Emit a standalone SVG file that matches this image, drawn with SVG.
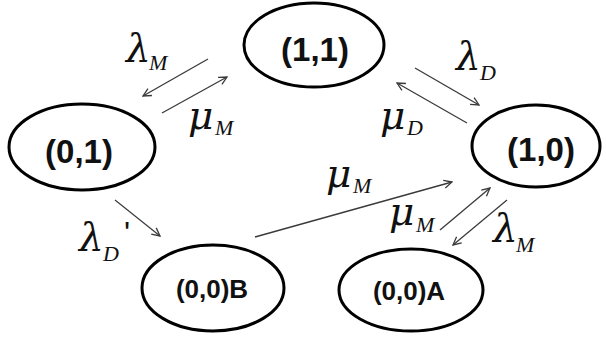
<svg xmlns="http://www.w3.org/2000/svg" width="606" height="338" viewBox="0 0 606 338">
<style>
.node{fill:#fff;stroke:#000;stroke-width:3}
.nt{font-family:"Liberation Sans",Arial,sans-serif;font-weight:bold;fill:#111;text-anchor:middle}
.big{font-size:33px}
.sm{font-size:26px}
.edge{stroke:#3a3a3a;stroke-width:1.3;fill:none}
.gk{font-family:"DejaVu Serif","Liberation Serif",serif;font-style:italic;fill:#111;font-size:39px}
.sub{font-family:"Liberation Serif","Times New Roman",serif;font-style:italic;fill:#111;font-size:22px}
</style>
<defs>
<marker id="ah" viewBox="0 0 10 10" refX="9" refY="5" markerWidth="10" markerHeight="10" markerUnits="userSpaceOnUse" orient="auto">
<path d="M1,1 L9,5 L1,9" fill="none" stroke="#3a3a3a" stroke-width="1.3"/>
</marker>
</defs>
<rect width="606" height="338" fill="#fff"/>
<g id="connectors">
<line class="edge" x1="208" y1="59" x2="143" y2="96" marker-end="url(#ah)"/>
<line class="edge" x1="162" y1="113" x2="227" y2="77" marker-end="url(#ah)"/>
<line class="edge" x1="415" y1="68" x2="479" y2="105" marker-end="url(#ah)"/>
<line class="edge" x1="467" y1="123" x2="397" y2="83" marker-end="url(#ah)"/>
<line class="edge" x1="115" y1="200" x2="160" y2="236" marker-end="url(#ah)"/>
<line class="edge" x1="255" y1="237" x2="452" y2="182" marker-end="url(#ah)"/>
<line class="edge" x1="440" y1="230" x2="490" y2="188" marker-end="url(#ah)"/>
<line class="edge" x1="507" y1="200" x2="453" y2="245" marker-end="url(#ah)"/>
</g>
<g id="labels">
<text class="gk" x="126" y="62">λ</text><text class="sub" x="149" y="70">M</text>
<text class="gk" x="188" y="129">μ</text><text class="sub" x="215" y="135">M</text>
<text class="gk" x="456" y="70">λ</text><text class="sub" x="480" y="80">D</text>
<text class="gk" x="380" y="129">μ</text><text class="sub" x="407" y="135">D</text>
<text class="gk" x="79" y="251">λ</text><text class="sub" x="103" y="261">D</text><text x="124" y="244" font-family="Liberation Sans,Arial,sans-serif" font-size="32" fill="#111">'</text>
<text class="gk" x="326" y="187">μ</text><text class="sub" x="353" y="193">M</text>
<text class="gk" x="389" y="225">μ</text><text class="sub" x="416" y="232">M</text>
<text class="gk" x="493" y="242">λ</text><text class="sub" x="516" y="252">M</text>
</g>
<g id="n11"><ellipse class="node" cx="314" cy="45" rx="70" ry="42"/><text class="nt big" x="315" y="61">(1,1)</text></g>
<g id="n01"><ellipse class="node" cx="82" cy="147" rx="73" ry="43"/><text class="nt big" x="79" y="163">(0,1)</text></g>
<g id="n10"><ellipse class="node" cx="536" cy="146" rx="64" ry="41"/><text class="nt big" x="541" y="161">(1,0)</text></g>
<g id="n00B"><ellipse class="node" cx="213" cy="288" rx="71" ry="43"/><text class="nt sm" x="212" y="298">(0,0)B</text></g>
<g id="n00A"><ellipse class="node" cx="411" cy="290" rx="72" ry="41"/><text class="nt sm" x="409" y="300">(0,0)A</text></g>
</svg>
